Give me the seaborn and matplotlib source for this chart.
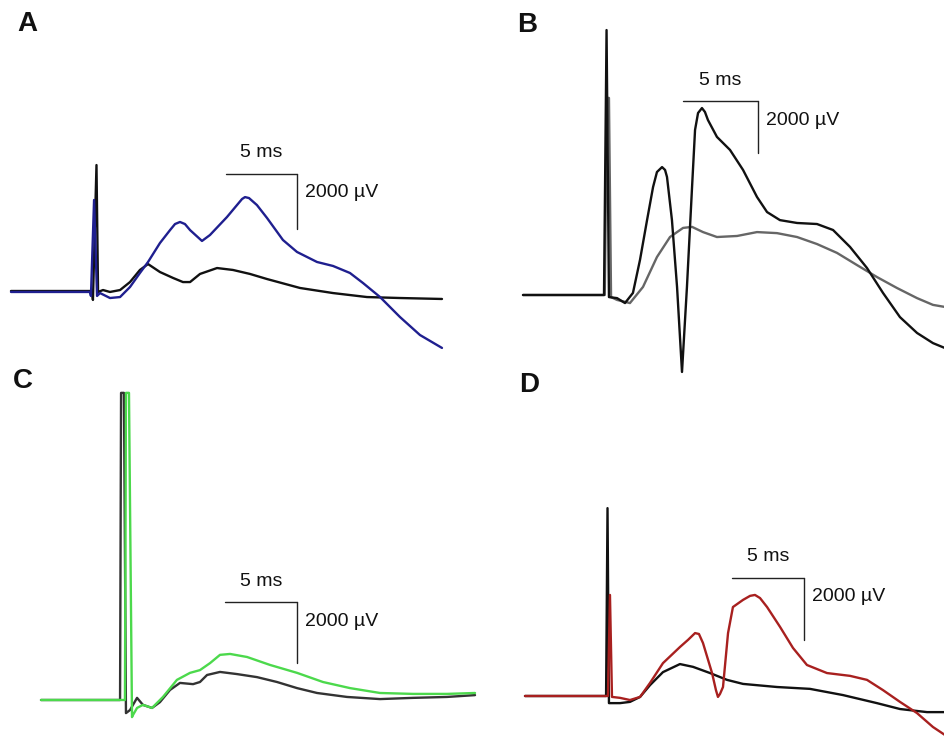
import numpy as np
import pandas as pd
import seaborn as sns
import matplotlib
matplotlib.use("Agg")
import matplotlib.pyplot as plt

# traces: time in ms, amplitude in µV

# panel A
a_black_t = [0, 5.70, 5.77, 6.02, 6.13, 6.48, 6.97, 7.68, 8.38, 9.08, 9.65, 10.49, 11.41,
             12.11, 12.61, 13.31, 14.51, 15.63, 16.83, 18.03, 20.35, 22.68, 25.07, 27.39, 30.35]
a_black_v = [0, 0, -325, 4580, -35, 35, -35, 35, 325, 765, 980, 690, 475,
             325, 325, 620, 835, 765, 620, 435, 110, -75, -220, -255, -290]
a_blue_t = [0, 5.56, 5.63, 5.85, 6.06, 6.27, 6.97, 7.68, 8.38, 9.08, 9.65, 10.49, 11.20,
            11.55, 11.90, 12.25, 12.61, 13.45, 14.01, 15.21, 16.27, 16.48, 16.76, 17.32,
            18.03, 19.15, 20.14, 21.55, 22.68, 23.87, 24.79, 25.99, 27.39, 28.80, 30.35]
a_blue_v = [-35, -35, -180, 3310, -180, -75, -255, -220, 145, 655, 1055, 1745, 2215,
            2435, 2510, 2435, 2215, 1820, 2035, 2690, 3345, 3415, 3380, 3125,
            2655, 1855, 1420, 1055, 910, 655, 290, -220, -945, -1600, -2070]

# panel B
b_black_t = [0, 5.40, 5.57, 5.73, 6.27, 6.80, 7.33, 7.80, 8.27, 8.67, 8.93, 9.27, 9.47,
             9.60, 9.93, 10.27, 10.60, 10.93, 11.27, 11.47, 11.67, 11.93, 12.13, 12.33,
             12.93, 13.80, 14.67, 15.60, 16.27, 17.13, 18.27, 19.60, 20.67, 21.80, 22.93,
             24.00, 25.13, 26.27, 27.33, 28.13]
b_black_v = [0, 0, 10190, -80, -120, -310, 80, 1350, 2880, 4150, 4730, 4920, 4810,
             4540, 2880, 310, -2960, 310, 4150, 6350, 7000, 7190, 7040, 6730,
             6080, 5580, 4810, 3770, 3190, 2880, 2770, 2730, 2500, 1850, 1040,
             80, -850, -1460, -1850, -2040]
b_grey_t = [0, 5.45, 5.60, 5.73, 5.87, 6.27, 7.13, 8.00, 8.93, 9.80, 10.67, 11.27, 12.00,
            12.93, 14.27, 15.60, 16.93, 18.27, 19.60, 20.93, 22.27, 23.60, 24.93, 26.27,
            27.33, 28.13]
b_grey_v = [0, 0, 7580, 7580, -80, -190, -310, 310, 1460, 2230, 2580, 2620, 2420,
            2230, 2270, 2420, 2380, 2230, 1960, 1620, 1150, 690, 270, -120,
            -380, -460]

# panel C
c_black_t = [0, 5.49, 5.56, 5.76, 5.90, 6.18, 6.67, 7.08, 7.71, 8.26, 8.96, 9.65, 10.56,
             11.04, 11.53, 12.43, 13.61, 15.00, 16.39, 17.78, 19.17, 21.25, 23.54, 25.83,
             28.19, 30.14]
c_black_v = [0, 0, 10070, 10070, -430, -330, 70, -160, -260, -70, 330, 560, 520,
             590, 820, 920, 850, 750, 590, 390, 230, 100, 30, 70,
             100, 160]
c_green_t = [0, 5.83, 5.90, 6.11, 6.32, 6.39, 6.67, 7.08, 7.71, 8.47, 9.44, 10.35, 11.04,
             11.74, 12.43, 13.13, 14.31, 15.90, 17.78, 19.58, 21.46, 23.54, 25.83, 28.19,
             30.14]
c_green_v = [0, 0, 10070, 10070, -560, -490, -260, -160, -260, 100, 660, 890, 980,
             1210, 1480, 1510, 1410, 1150, 890, 590, 390, 230, 200, 200,
             230]

# panel D
d_black_t = [0, 5.63, 5.73, 5.83, 6.04, 6.60, 7.29, 7.99, 8.68, 9.58, 10.76, 11.67, 12.85,
             14.03, 15.14, 17.50, 19.79, 22.08, 24.44, 26.04, 27.92, 29.17]
d_black_v = [0, 0, 6060, -230, -230, -230, -190, -30, 350, 770, 1030, 940, 740,
             520, 390, 290, 230, 30, -230, -420, -520, -520]
d_red_t = [0, 5.76, 5.90, 6.04, 6.60, 7.29, 7.99, 8.68, 9.58, 10.76, 11.32, 11.81, 12.08,
           12.36, 12.99, 13.26, 13.40, 13.54, 13.75, 14.10, 14.44, 15.14, 15.63, 15.97,
           16.32, 16.81, 17.71, 18.61, 19.58, 20.97, 22.57, 23.75, 24.86, 26.04, 27.22,
           28.33, 29.17]
d_red_v = [0, 0, 3260, -30, -60, -130, -30, 420, 1060, 1580, 1810, 2030, 2000,
           1710, 740, 190, -30, 65, 290, 2030, 2870, 3100, 3230, 3260,
           3160, 2870, 2230, 1550, 1000, 740, 650, 520, 190, -190, -550,
           -1000, -1260]

# panels: label, traces (t, v, colour), scale bar corner (t, v)
panels = [
    ("A", [(a_black_t, a_black_v, "#111111"), (a_blue_t, a_blue_v, "#1f1f8f")], (15.14, 4255)),
    ("B", [(b_grey_t, b_grey_v, "#666666"), (b_black_t, b_black_v, "#111111")], (10.67, 7460)),
    ("C", [(c_black_t, c_black_v, "#333333"), (c_green_t, c_green_v, "#4cd94c")], (12.78, 3210)),
    ("D", [(d_black_t, d_black_v, "#111111"), (d_red_t, d_red_v, "#a8201f")], (14.38, 3810)),
]

# layout in pixels: axes box (left, top, w, h), origin (x0, y0), px per ms, px per µV
layout = [
    ((0, 0, 472, 371), (11, 291), 14.2, 0.0275),
    ((472, 0, 473, 371), (523, 295), 15.0, 0.026),
    ((0, 371, 472, 371), (41, 700), 14.4, 0.0305),
    ((472, 371, 473, 371), (525, 696), 14.4, 0.031),
]
label_pos = [(27, 24), (527, 25), (23, 381), (529, 385)]

W, H = 945, 742
sns.set_theme(style="white")
plt.rcParams["font.family"] = ["Liberation Sans", "DejaVu Sans"]

fig = plt.figure(figsize=(W / 100, H / 100), dpi=100)
fig.patch.set_facecolor("white")

for (name, traces, bar), (box, org, sx, sy), lp in zip(panels, layout, label_pos):
    left, top, w, h = box
    x0, y0 = org
    ax = fig.add_axes([left / W, 1 - (top + h) / H, w / W, h / H])
    ax.patch.set_alpha(0)
    for t, v, col in traces:
        df = pd.DataFrame({"t": t, "v": v})
        sns.lineplot(data=df, x="t", y="v", ax=ax, color=col, lw=1.7,
                     sort=False, estimator=None, clip_on=False,
                     solid_joinstyle="round")
    ax.set_xlim((left - x0) / sx, (left + w - x0) / sx)
    ax.set_ylim((y0 - (top + h)) / sy, (y0 - top) / sy)
    ax.set_axis_off()

    bt, bv = bar
    ax.plot([bt, bt + 5], [bv, bv], color="#222222", lw=1.0)
    ax.plot([bt + 5, bt + 5], [bv, bv - 2000], color="#222222", lw=1.0)
    ax.annotate("5 ms", (bt + 2.5, bv), xytext=(0, 21), textcoords="offset pixels",
                ha="center", va="center", fontsize=14, color="#111111")
    ax.annotate("2000 µV", (bt + 5, bv), xytext=(8, -19), textcoords="offset pixels",
                ha="left", va="center", fontsize=14, color="#111111")

    fig.text(lp[0] / W, 1 - lp[1] / H, name, ha="center", va="center",
             fontsize=20, fontweight="bold", color="#111111")

fig.savefig("out.png", dpi=100, facecolor="white")
